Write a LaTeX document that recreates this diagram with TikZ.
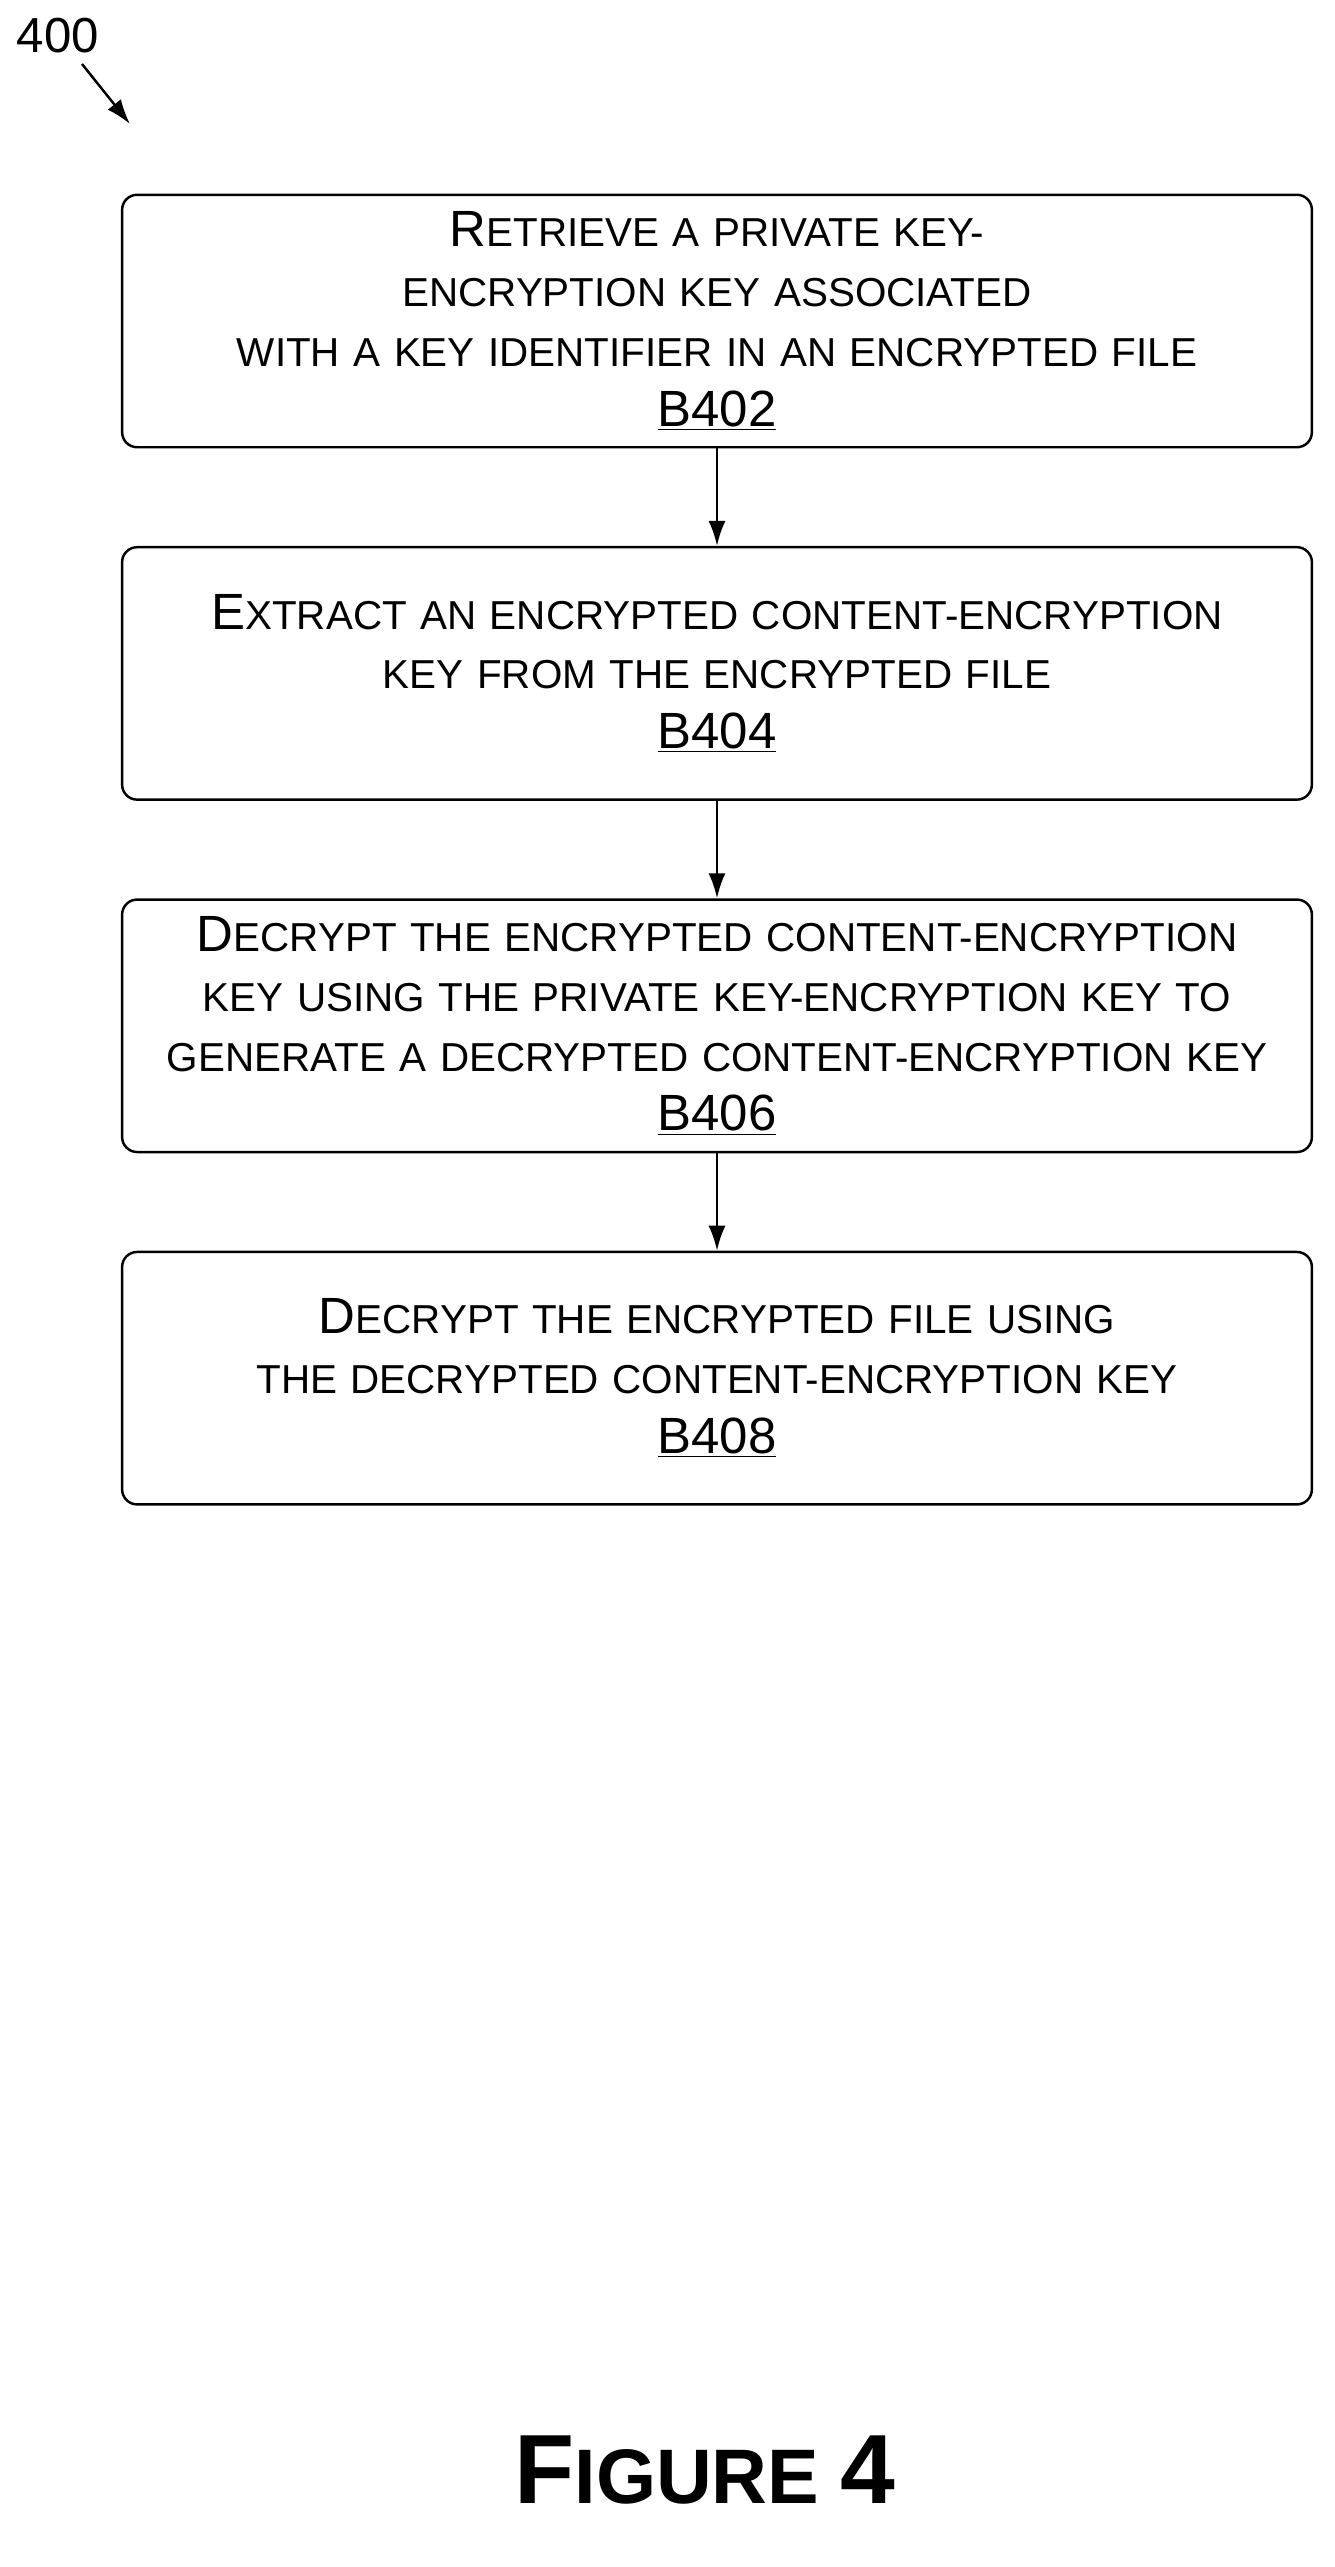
\documentclass[tikz,border=0pt]{standalone}
\usepackage{fontspec}
\setmainfont{Liberation Sans}
\usetikzlibrary{positioning,arrows.meta}
\newcommand\capl[1]{{\fontsize{29}{34}\selectfont #1}}
\begin{document}
\begin{tikzpicture}[x=0.02cm,y=-0.02cm,
    block/.style={draw,line width=1.4pt,rounded corners=0.3cm,minimum width=23.8cm,
        minimum height=5.05cm,align=center,text width=23cm,inner sep=0pt,
        font=\fontsize{23}{34}\selectfont},
    flow/.style={-{Latex[length=0.5cm,width=0.34cm]},line width=1.4pt}]
    \useasboundingbox (0,0) rectangle (1335,2567);
    % label
    \node[font=\fontsize{28}{32}\selectfont] (lbl) at (58,36) {400};
    \coordinate (tip) at (130,124);
    \draw[flow] (82,64) -- (tip);
    % blocks
    \node[block] (b402) at (717,321) {\capl{R}ETRIEVE A PRIVATE KEY-ENCRYPTION KEY ASSOCIATED\\
        WITH A KEY IDENTIFIER IN AN ENCRYPTED FILE\\ \capl{\underline{B402}}};
    \node[block,below=1.95cm of b402] (b404) {\capl{E}XTRACT AN ENCRYPTED CONTENT-ENCRYPTION\\
        KEY FROM THE ENCRYPTED FILE\\ \capl{\underline{B404}}};
    \node[block,below=1.95cm of b404] (b406) {\capl{D}ECRYPT THE ENCRYPTED CONTENT-ENCRYPTION\\
        KEY USING THE PRIVATE KEY-ENCRYPTION KEY TO\\
        GENERATE A DECRYPTED CONTENT-ENCRYPTION KEY\\ \capl{\underline{B406}}};
    \node[block,below=1.95cm of b406] (b408) {\capl{D}ECRYPT THE ENCRYPTED FILE USING\\
        THE DECRYPTED CONTENT-ENCRYPTION KEY\\ \capl{\underline{B408}}};
    % arrows
    \draw[flow] (b402) -- (b404);
    \draw[flow] (b404) -- (b406);
    \draw[flow] (b406) -- (b408);
    % caption
    \node[font=\bfseries\fontsize{44}{50}\selectfont] (fig) at (705,2470)
        {{\fontsize{56}{60}\selectfont F}IGURE {\fontsize{56}{60}\selectfont 4}};
\end{tikzpicture}
\end{document}
